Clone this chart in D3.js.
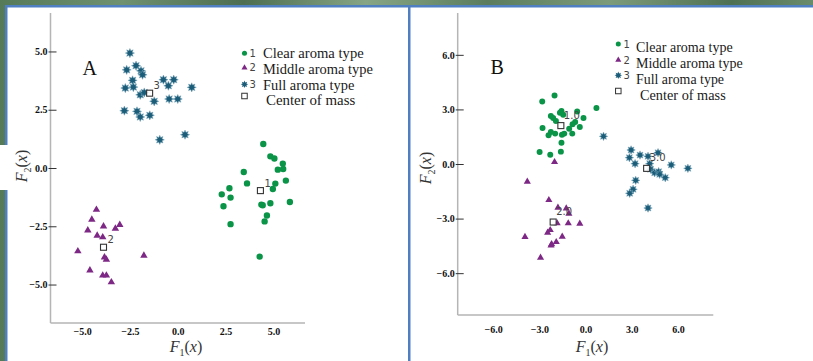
<!DOCTYPE html>
<html><head><meta charset="utf-8">
<script src="https://cdn.jsdelivr.net/npm/d3@7"></script>
<style>html,body{margin:0;padding:0;background:#fff;overflow:hidden}</style>
</head><body><svg id="c" width="813" height="361"></svg>
<script>
// ---------- data ----------
const legendLabels = ["Clear aroma type", "Middle aroma type", "Full aroma type", "Center of mass"];
const groupNumbers = ["1", "2", "3"];
const ticksA = [-5, -2.5, 0, 2.5, 5];
const ticksB = [-6, -3, 0, 3, 6];

// Panel A
const aClear = [[4.47,1.03],[4.84,0.50],[5.05,0.41],[5.49,0.19],[5.51,-0.04],[5.23,-0.07],[3.45,-0.17],
  [3.62,-0.66],[5.10,-0.67],[5.65,-0.54],[4.97,-0.90],[2.30,-1.13],[2.70,-0.87],[2.76,-1.27],[2.39,-1.64],
  [4.37,-1.57],[4.44,-1.60],[4.84,-1.51],[5.86,-1.46],[4.66,-2.04],[4.54,-2.29],[2.76,-2.41],[4.28,-3.80]];
const aMiddle = [[-4.25,-1.79],[-4.49,-2.21],[-4.70,-2.67],[-3.88,-2.50],[-3.03,-2.44],[-3.26,-2.60],
  [-4.21,-2.90],[-3.92,-2.97],[-5.22,-3.57],[-3.83,-3.83],[-3.73,-3.93],[-1.77,-3.76],[-4.59,-4.39],
  [-3.92,-4.61],[-3.73,-4.61],[-3.47,-4.90]];
const aFull = [[-2.50,4.93],[-2.18,4.39],[-2.67,4.21],[-1.92,4.17],[-1.84,4.00],[-2.36,3.76],[-2.74,3.43],
  [-2.32,3.47],[-1.96,3.14],[-1.75,3.24],[-1.23,2.86],[-0.75,3.79],[-0.49,3.53],[-0.21,3.79],[-0.45,2.96],
  [0.00,2.96],[0.73,3.46],[-2.79,2.46],[-2.13,2.43],[-1.96,2.19],[-1.46,2.26],[-0.94,1.21],[0.38,1.43]];
const aCenters = [[4.32,-0.97,"1"],[-3.88,-3.40,"2"],[-1.47,3.21,"3"]];

// Panel B
const bClear = [[-2.01,3.77],[-2.81,3.44],[0.71,3.08],[-1.56,2.91],[-1.66,2.82],[-0.54,2.88],[-0.13,2.53],
  [-2.25,2.64],[-2.10,2.53],[-1.45,2.71],[-1.92,2.36],[-0.67,2.31],[-0.84,2.18],[-0.37,2.03],[-2.79,1.98],
  [-1.06,1.94],[-2.25,1.76],[-2.40,1.58],[-1.97,1.67],[-1.53,1.61],[-1.38,1.67],[-0.86,1.67],[-1.56,1.17],
  [-2.98,0.66],[-2.29,0.51],[-1.60,0.68]];
const bMiddle = [[-2.01,0.11],[-3.78,-0.97],[-2.38,-1.98],[-1.79,-2.40],[-1.25,-2.44],[-1.08,-2.73],
  [-1.84,-3.26],[-1.12,-3.26],[-0.37,-3.28],[-2.29,-3.63],[-2.46,-3.77],[-3.93,-4.01],[-1.51,-3.99],
  [-1.90,-4.29],[-2.20,-4.41],[-2.24,-4.47],[-2.92,-5.15]];
const bFull = [[1.17,1.52],[2.96,0.77],[2.85,0.35],[3.54,0.49],[4.06,0.42],[4.71,0.62],[3.22,0.02],
  [4.17,0.02],[5.57,-0.05],[6.65,-0.24],[4.23,-0.29],[4.49,-0.48],[4.75,-0.42],[4.82,-0.57],[5.18,-0.75],
  [3.26,-0.90],[3.09,-1.39],[2.87,-1.61],[4.06,-2.42]];
const bCenters = [[-1.60,2.11,"1.0"],[-2.10,-3.19,"2.0"],[3.97,-0.24,"3.0"]];

// ---------- styles / layout ----------
const colors = {clear: "#0a9447", middle: "#7e2886", full: "#1b5d79"};
const svg = d3.select("#c");

// frame background
const defs = svg.append("defs");
const g = defs.append("linearGradient").attr("id", "bg").attr("x1", 0).attr("x2", 1);
[["0%","#557a58"],["15%","#6f9170"],["30%","#4d6e50"],["45%","#86a584"],["60%","#5b7d5d"],["75%","#7c9b7a"],["90%","#4f7153"],["100%","#6a8c6b"]]
  .forEach(([o,c]) => g.append("stop").attr("offset", o).attr("stop-color", c));
svg.append("rect").attr("width", 813).attr("height", 361).attr("fill", "url(#bg)");
svg.append("rect").attr("x", 5).attr("y", 5).attr("width", 808).attr("height", 356).attr("fill", "#4f7fc0");
svg.append("rect").attr("x", 7.5).attr("y", 7.5).attr("width", 400.5).attr("height", 354).attr("fill", "#fff");
svg.append("rect").attr("x", 410.5).attr("y", 7.5).attr("width", 403).attr("height", 354).attr("fill", "#fff");
svg.append("rect").attr("x", 0).attr("y", 145).attr("width", 8).attr("height", 45).attr("fill", "#fff");

// 8-point star symbol
const star8 = {
  draw(ctx, size) {
    const R = Math.sqrt(size), r = R * 0.55;
    for (let i = 0; i < 16; i++) {
      const a = i * Math.PI / 8 - Math.PI / 2, rr = i % 2 ? r : R;
      if (i === 0) ctx.moveTo(rr * Math.cos(a), rr * Math.sin(a));
      else ctx.lineTo(rr * Math.cos(a), rr * Math.sin(a));
    }
    ctx.closePath();
  }
};

const panels = [
  {
    clear: aClear, middle: aMiddle, full: aFull, centers: aCenters, ticks: ticksA,
    xDom: [-6.65, 6.65], yDom: [-6.65, 6.65], xR: [50.5, 305], yR: [323, 13],
    xPad: 5, letter: "A", letterX: 82.5, letterY: 75,
    circ: 32, tri: 24, star: 21, sq: 6, cLabelDx: 4, cLabelDy: -4, cLabelSize: 10,
    yTitle: [27, 166], xTitle: [186, 352],
    leg: {mx: 244.5, numX: 249.5, tx: 263, cx: 266, my: [53.3, 67.7, 84.3, 96], ty: [58, 74, 89.5, 104.5],
          w: [100.7, 110, 91.3, 89.3]}
  },
  {
    clear: bClear, middle: bMiddle, full: bFull, centers: bCenters, ticks: ticksB,
    xDom: [-8.3, 8.3], yDom: [-8.3, 8.3], xR: [457.7, 713.3], yR: [315, 13],
    xPad: 11, letter: "B", letterX: 490.5, letterY: 74,
    circ: 28, tri: 22, star: 18, sq: 6, cLabelDx: 3, cLabelDy: -7, cLabelSize: 10,
    yTitle: [431, 168], xTitle: [592, 352],
    leg: {mx: 618.3, numX: 623.5, tx: 636, cx: 640, my: [44, 60, 75.3, 91], ty: [52, 68, 83.5, 99.5],
          w: [96.7, 106.7, 88, 85.7]}
  }
];

panels.forEach(p => {
  const x = d3.scaleLinear().domain(p.xDom).range(p.xR);
  const y = d3.scaleLinear().domain(p.yDom).range(p.yR);
  const fmt = d3.format(".1f");

  // y axis
  const ya = svg.append("g").attr("transform", `translate(${p.xR[0]},0)`)
    .call(d3.axisLeft(y).tickValues(p.ticks).tickFormat(fmt).tickSize(2).tickPadding(1));
  ya.select(".domain").attr("stroke", "#b5b5b5").attr("stroke-width", 1.5).attr("d", `M0,${p.yR[0]}V${p.yR[1]}`);
  ya.selectAll(".tick line").attr("x1", -2).attr("x2", 6).attr("stroke", "#333").attr("stroke-width", 1);
  ya.selectAll(".tick text").attr("x", -3).attr("font-family", "Liberation Serif").attr("font-weight", "bold")
    .attr("font-size", 10).attr("fill", "#111");

  // x axis
  const xa = svg.append("g").attr("transform", `translate(0,${p.yR[0]})`)
    .call(d3.axisBottom(x).tickValues(p.ticks).tickFormat(fmt).tickSize(0).tickPadding(p.xPad));
  xa.select(".domain").attr("stroke", "#b5b5b5").attr("stroke-width", 1.5).attr("d", `M${p.xR[0]},0H${p.xR[1]}`);
  xa.selectAll(".tick text").attr("font-family", "Liberation Serif").attr("font-weight", "bold")
    .attr("font-size", 10).attr("fill", "#111");

  // points
  const sym = (type, size) => d3.symbol().type(type).size(size)();
  svg.append("g").selectAll("path").data(p.clear).join("path")
    .attr("transform", d => `translate(${x(d[0])},${y(d[1])})`).attr("d", sym(d3.symbolCircle, p.circ))
    .attr("fill", colors.clear);
  svg.append("g").selectAll("path").data(p.middle).join("path")
    .attr("transform", d => `translate(${x(d[0])},${y(d[1])})`).attr("d", sym(d3.symbolTriangle, p.tri))
    .attr("fill", colors.middle);
  svg.append("g").selectAll("path").data(p.full).join("path")
    .attr("transform", d => `translate(${x(d[0])},${y(d[1])})`).attr("d", sym(star8, p.star))
    .attr("fill", colors.full).attr("stroke", "#7aa7ba").attr("stroke-width", 0.5);

  // centers
  const cg = svg.append("g");
  cg.selectAll("rect").data(p.centers).join("rect")
    .attr("x", d => x(d[0]) - p.sq / 2).attr("y", d => y(d[1]) - p.sq / 2)
    .attr("width", p.sq).attr("height", p.sq).attr("fill", "#fff").attr("fill-opacity", 0.85)
    .attr("stroke", "#333").attr("stroke-width", 1.1);
  cg.selectAll("text").data(p.centers).join("text")
    .attr("x", d => x(d[0]) + p.cLabelDx).attr("y", d => y(d[1]) + p.cLabelDy)
    .attr("font-family", "DejaVu Sans").attr("font-size", p.cLabelSize).attr("fill", "#444").text(d => d[2]);

  // panel letter
  svg.append("text").attr("x", p.letterX).attr("y", p.letterY).attr("font-family", "Liberation Serif")
    .attr("font-size", 20).attr("fill", "#111").text(p.letter);

  // axis titles
  const yt = svg.append("text").attr("transform", `translate(${p.yTitle[0]},${p.yTitle[1]}) rotate(-90)`)
    .attr("text-anchor", "middle").attr("font-family", "Liberation Serif").attr("font-size", 16).attr("fill", "#333");
  yt.append("tspan").attr("font-style", "italic").text("F");
  yt.append("tspan").attr("font-size", 10).attr("dy", 4).text("2");
  yt.append("tspan").attr("dy", -4).text("(");
  yt.append("tspan").attr("font-style", "italic").text("x");
  yt.append("tspan").text(")");
  const xt = svg.append("text").attr("x", p.xTitle[0]).attr("y", p.xTitle[1])
    .attr("text-anchor", "middle").attr("font-family", "Liberation Serif").attr("font-size", 16).attr("fill", "#333");
  xt.append("tspan").attr("font-style", "italic").text("F");
  xt.append("tspan").attr("font-size", 10).attr("dy", 4).text("1");
  xt.append("tspan").attr("dy", -4).text("(");
  xt.append("tspan").attr("font-style", "italic").text("x");
  xt.append("tspan").text(")");

  // legend
  const L = p.leg;
  const lg = svg.append("g");
  lg.append("path").attr("transform", `translate(${L.mx},${L.my[0]})`).attr("d", sym(d3.symbolCircle, 20)).attr("fill", colors.clear);
  lg.append("path").attr("transform", `translate(${L.mx},${L.my[1]})`).attr("d", sym(d3.symbolTriangle, 16)).attr("fill", colors.middle);
  lg.append("path").attr("transform", `translate(${L.mx},${L.my[2]})`).attr("d", sym(star8, 14)).attr("fill", colors.full);
  lg.append("rect").attr("x", L.mx - 2.75).attr("y", L.my[3] - 2.75).attr("width", 5.5).attr("height", 5.5)
    .attr("fill", "#fff").attr("stroke", "#333").attr("stroke-width", 1);
  groupNumbers.forEach((n, i) => {
    lg.append("text").attr("x", L.numX).attr("y", L.my[i] + 3.5).attr("font-family", "DejaVu Sans")
      .attr("font-size", 10).attr("fill", "#444").text(n);
  });
  legendLabels.forEach((t, i) => {
    lg.append("text").attr("x", i === 3 ? L.cx : L.tx).attr("y", L.ty[i]).attr("font-family", "Liberation Serif")
      .attr("font-size", 14).attr("fill", "#1a1a1a").attr("textLength", L.w[i]).attr("lengthAdjust", "spacingAndGlyphs")
      .text(t);
  });
});
</script></body></html>
